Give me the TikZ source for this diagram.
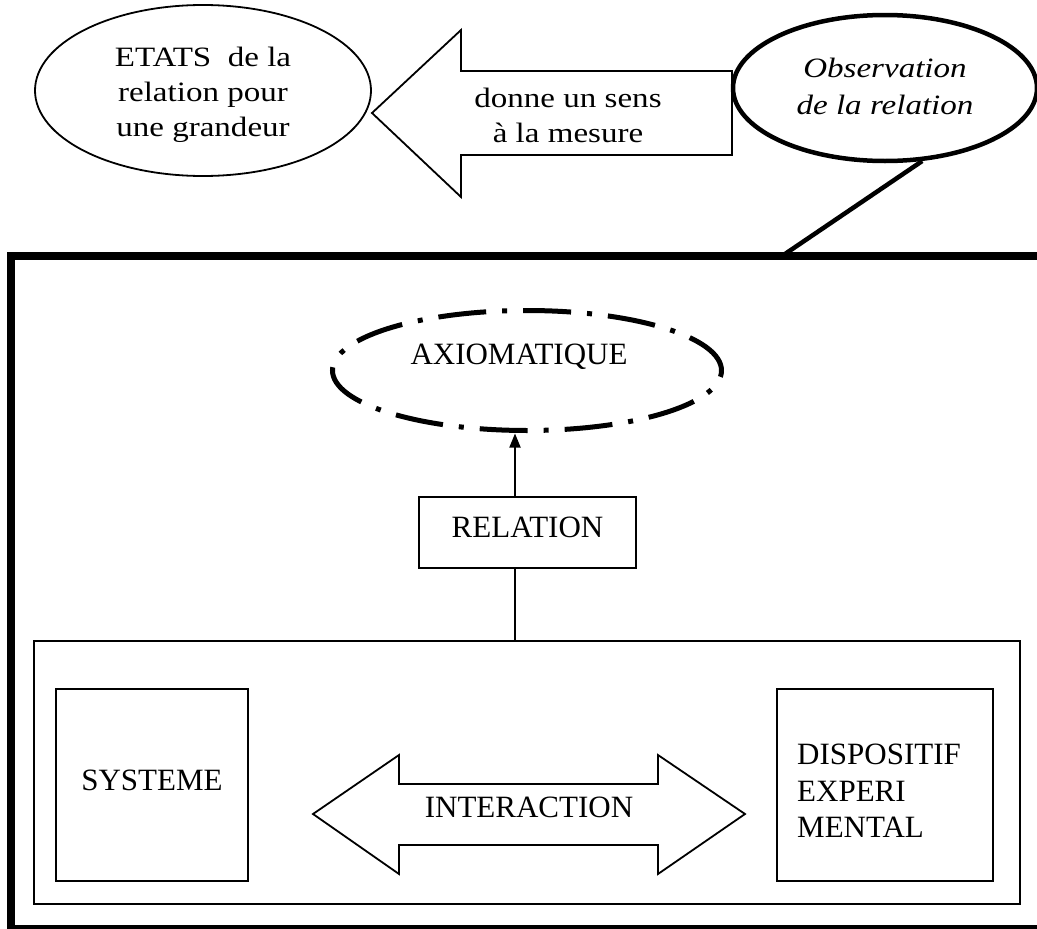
\documentclass[tikz,border=0pt]{standalone}
\usepackage{fontspec}
\setmainfont{Liberation Serif}
\newfontfamily\topfont[FakeStretch=1.18]{Liberation Serif}
\usetikzlibrary{arrows.meta,shapes.geometric,calc}
\begin{document}
\begin{tikzpicture}[x=1pt,y=-1pt,
  thinline/.style={line width=1.8pt},
  toptext/.style={font=\topfont\fontsize{28}{35}\selectfont, align=center, inner sep=0pt},
  bigtext/.style={font=\fontsize{31}{36.5}\selectfont, inner sep=0pt},
  boxnode/.style={draw, thinline, rectangle, inner sep=0pt},
  dashdot/.style={line width=5pt, dash pattern=on 48pt off 16pt on 5pt off 16pt}
]
\useasboundingbox (0,0) rectangle (1037,929);

% top-left ellipse
\node[draw, ellipse, thinline, minimum width=336pt, minimum height=171pt, inner sep=0pt] (etats) at (203,90.5) {};
\node[toptext] (etatstext) at (203,95) {ETATS\ \ de la\\relation pour\\une grandeur};

% big left arrow
\draw[thinline] (372,113) -- (461,30) -- (461,71) -- (732,71) -- (732,155) -- (461,155) -- (461,197) -- cycle;
\node[toptext] (sens) at (568,115) {donne un sens\\à la mesure};

% observation ellipse
\node[draw, ellipse, line width=4.5pt, fill=white, minimum width=304pt, minimum height=146pt, inner sep=0pt] (obs) at (885,88) {};
\node[toptext, font=\topfont\itshape\fontsize{28}{37}\selectfont] (obstext) at (885,86) {Observation\\de la relation};

% thick frame
\draw[line width=8pt] (11,256) rectangle (1060,929);
\coordinate (frametop) at (782,256);
\draw[line width=4.5pt] (obs.-63) -- (frametop);

% axiomatique
\node[draw, ellipse, dashdot, minimum width=389pt, minimum height=120pt, inner sep=0pt, outer sep=0pt] (axiom) at (527,370.5) {};
\node[bigtext] (axiomtext) at (519,357) {AXIOMATIQUE};

% relation
\node[boxnode, bigtext, minimum width=217pt, minimum height=71pt, text depth=10pt] (rel) at (527.5,532.5) {RELATION};
\draw[thinline, -{Triangle[width=11pt,length=14pt]}, shorten >=3pt] ([xshift=-12.5pt]rel.north) -- ([xshift=-12.5pt]rel.north |- axiom.south);

% inner box
\node[boxnode, minimum width=986pt, minimum height=263pt] (inner) at (527,772.5) {};
\draw[thinline] ([xshift=-12.5pt]rel.south) -- ([xshift=-12.5pt]rel.south |- inner.north);

% systeme
\node[boxnode, bigtext, minimum width=192pt, minimum height=192pt, text depth=10pt] (sys) at (152,785) {SYSTEME};

% dispositif
\node[boxnode, minimum width=216pt, minimum height=192pt] (disp) at (885,785) {};
\node[bigtext, align=left, anchor=west] (disptext) at (797,791) {DISPOSITIF\\EXPERI\\MENTAL};

% interaction double arrow
\draw[thinline] (313,814) -- (399,755) -- (399,784) -- (658,784) -- (658,755) -- (745,814) -- (658,874) -- (658,845) -- (399,845) -- (399,874) -- cycle;
\node[bigtext] (inter) at (529,807.5) {INTERACTION};
\end{tikzpicture}
\end{document}
